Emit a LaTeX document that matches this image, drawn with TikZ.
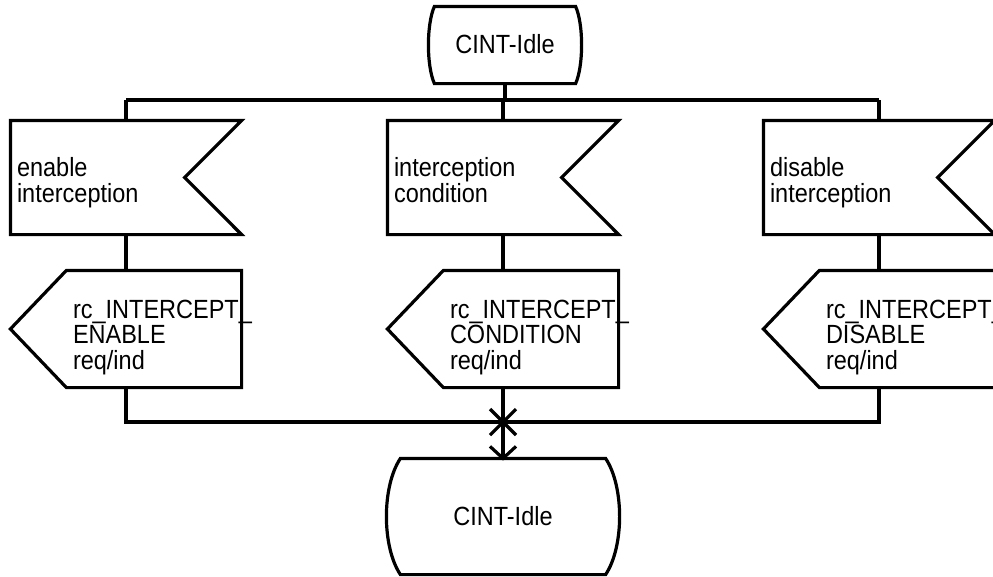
\documentclass[tikz,border=0pt]{standalone}
\usepackage{fontspec}
\usepackage{graphicx}
\setmainfont{Liberation Sans}
\newcommand\drawstate[3]{\draw ([xshift=#2]#1.north west) -- ([xshift=-#2]#1.north east)
  .. controls ([xshift=#2/3,yshift=-#3]#1.north east) and ([xshift=#2/3,yshift=#3]#1.south east) .. ([xshift=-#2]#1.south east)
  -- ([xshift=#2]#1.south west)
  .. controls ([xshift=-#2/3,yshift=#3]#1.south west) and ([xshift=-#2/3,yshift=-#3]#1.north west) .. cycle;}
\newcommand\tallt[1]{\scalebox{1}[1.12]{\begin{tabular}{@{}l@{}}#1\end{tabular}}}
\begin{document}
\begin{tikzpicture}[x=1pt,y=-1pt,line width=3.2pt,
  every node/.style={font=\fontsize{23.5}{20}\selectfont},
  inbox/.style={minimum width=228pt,minimum height=111pt,inner sep=0pt,draw=none},
  outbox/.style={minimum width=172pt,minimum height=114pt,inner sep=0pt,draw=none},
  statebox/.style={draw=none,inner sep=0pt},
  lbl/.style={inner sep=0pt,anchor=west}]
\useasboundingbox (0,0) rectangle (993,576);
\clip (0,0) rectangle (993,576);
% states
\node[statebox,minimum width=150pt,minimum height=74pt] (s1) at (505,45) {};
\drawstate{s1}{6pt}{18pt}
\node[inner sep=0pt] (s1t) at ([yshift=-2pt]s1.center) {\tallt{CINT-Idle}};
\node[statebox,minimum width=230pt,minimum height=113pt] (s2) at (503,516.5) {};
\drawstate{s2}{14pt}{28pt}
\node[inner sep=0pt] (s2t) at ([yshift=-3pt]s2.center) {\tallt{CINT-Idle}};
% input signals
\node[inbox] (in1) at (126,177.5) {};
\node[inbox] (in2) at (503,177.5) {};
\node[inbox] (in3) at (879,177.5) {};
\foreach \n in {in1,in2,in3}{
  \draw (\n.north west) -- (\n.north east) -- ([xshift=-57pt]\n.east) -- (\n.south east) -- (\n.south west) -- cycle;}
\node[lbl] (in1t) at ([xshift=5pt,yshift=-6pt]in1.west) {\tallt{enable\\interception}};
\node[lbl] (in2t) at ([xshift=5pt,yshift=-6pt]in2.west) {\tallt{interception\\condition}};
\node[lbl] (in3t) at ([xshift=5pt,yshift=-6pt]in3.west) {\tallt{disable\\interception}};
% output signals
\node[outbox] (out1) at (154,329) {};
\node[outbox] (out2) at (531,329) {};
\node[outbox] (out3) at (907,329) {};
\foreach \n in {out1,out2,out3}{
  \draw (\n.north west) -- (\n.north east) -- (\n.south east) -- (\n.south west) -- ([xshift=-56pt]\n.west) -- cycle;}
\node[lbl] (out1t) at ([xshift=5pt,yshift=-9pt]out1.west) {\tallt{rc\_INTERCEPT\_\\ENABLE\\req/ind}};
\node[lbl] (out2t) at ([xshift=5pt,yshift=-9pt]out2.west) {\tallt{rc\_INTERCEPT\_\\CONDITION\\req/ind}};
\node[lbl] (out3t) at ([xshift=5pt,yshift=-9pt]out3.west) {\tallt{rc\_INTERCEPT\_\\DISABLE\\req/ind}};
% top bar
\coordinate (t1) at (126,100);
\coordinate (t3) at (879,100);
\draw (t1) -- (t3);
\draw (s1.south) -- (s1.south |- t1);
\draw (t1) -- (in1.north);
\draw (in2.north |- t1) -- (in2.north);
\draw (t3) -- (in3.north);
% in -> out
\foreach \i in {1,2,3}{
  \draw (in\i.south) -- (in\i.south |- out\i.north);}
% bottom bar
\coordinate (b1) at (126,422);
\coordinate (b3) at (879,422);
\coordinate (j) at (503,422);
\draw (in1.south |- out1.south) -- (b1) -- (b3) -- (in3.south |- out3.south);
\draw (in2.south |- out2.south) -- (j) -- (s2.north);
\draw ([shift={(-13,-13)}]j) -- ([shift={(13,13)}]j);
\draw ([shift={(-13,13)}]j) -- ([shift={(13,-13)}]j);
\draw ([shift={(-13,-12)}]s2.north) -- (s2.north) -- ([shift={(13,-12)}]s2.north);
\end{tikzpicture}
\end{document}
